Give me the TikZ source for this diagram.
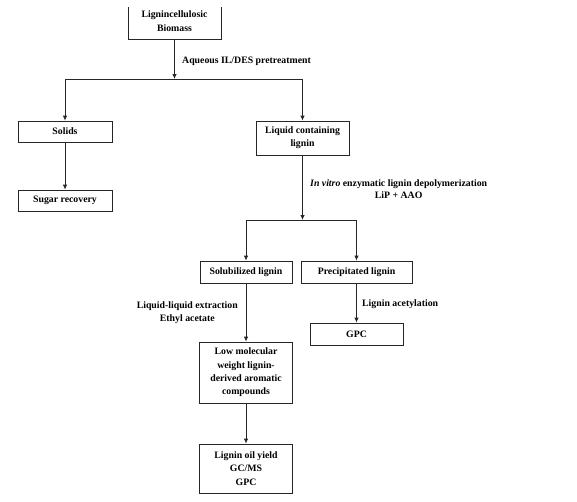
\documentclass[tikz,border=0pt]{standalone}
\usepackage{fontspec}
\setmainfont{Liberation Serif}
\usetikzlibrary{arrows.meta}

\tikzset{
    stepbox/.style={draw=black!85, line width=0.8pt, fill=white, align=center,
        inner sep=1pt, font=\fontsize{9.8}{13.3}\selectfont\bfseries},
    flow/.style={draw=black!85, line width=0.8pt, -{Latex[length=5pt,width=4.5pt]}},
    tag/.style={align=center, inner sep=1pt, font=\fontsize{9.8}{12.5}\selectfont\bfseries}
}

\begin{document}
\begin{tikzpicture}[x=1pt, y=-1pt]
    \useasboundingbox (0,0) rectangle (577,501);
    \clip (0,7) rectangle (577,501);

    \node[stepbox, minimum width=93pt, minimum height=36pt] (biomass) at (174.5,21) {Lignincellulosic\\Biomass};
    \node[stepbox, minimum width=94pt, minimum height=21pt] (solids) at (65,131.5) {Solids};
    \node[stepbox, minimum width=94pt, minimum height=21pt] (sugar) at (65,200.5) {Sugar recovery};
    \node[stepbox, minimum width=93pt, minimum height=34pt] (liquid) at (302.5,138) {Liquid containing\\lignin};

    \node[stepbox, minimum width=92pt, minimum height=22pt] (soluble) at (246,272) {Solubilized lignin};
    \node[stepbox, minimum width=111pt, minimum height=22pt] (precip) at (356.5,272) {Precipitated lignin};
    \node[stepbox, minimum width=93pt, minimum height=22pt] (gpc) at (356.5,334) {GPC};

    \node[stepbox, minimum width=93pt, minimum height=61pt] (lowmw) at (246,372.5) {Low molecular\\weight lignin-\\derived aromatic\\compounds};
    \node[stepbox, minimum width=93pt, minimum height=49pt] (oil) at (246,468.5) {Lignin oil yield\\GC/MS\\GPC};

    \coordinate (split1) at (174.5,79);
    \coordinate (split1l) at (65,79);
    \coordinate (split1r) at (302.5,79);
    \coordinate (split2) at (302.5,220);
    \coordinate (split2l) at (246,220);
    \coordinate (split2r) at (356.5,220);

    % biomass splits into solids and liquid
    \draw[flow] (biomass) -- (split1);
    \draw[draw=black!85, line width=0.8pt] (split1l) -- (split1r);
    \draw[flow] (split1l) -- (solids);
    \draw[flow] (split1r) -- (liquid);
    \draw[flow] (solids) -- (sugar);

    % enzymatic step
    \draw[flow] (liquid) -- (split2);
    \draw[draw=black!85, line width=0.8pt] (split2l) -- (split2r);
    \draw[flow] (split2l) -- (soluble);
    \draw[flow] (split2r) -- (precip);

    \draw[flow] (soluble) -- (lowmw);
    \draw[flow] (lowmw) -- (oil);
    \draw[flow] (precip) -- (gpc);

    \node[tag, anchor=west] (pretreat) at (181,61) {Aqueous IL/DES pretreatment};
    \node[tag, anchor=west] (enzyme) at (309,189) {\textit{In vitro} enzymatic lignin depolymerization\\LiP + AAO};
    \node[tag, anchor=east] (extract) at (239,312.5) {Liquid-liquid extraction\\Ethyl acetate};
    \node[tag, anchor=west] (acetyl) at (361,304) {Lignin acetylation};
\end{tikzpicture}
\end{document}
